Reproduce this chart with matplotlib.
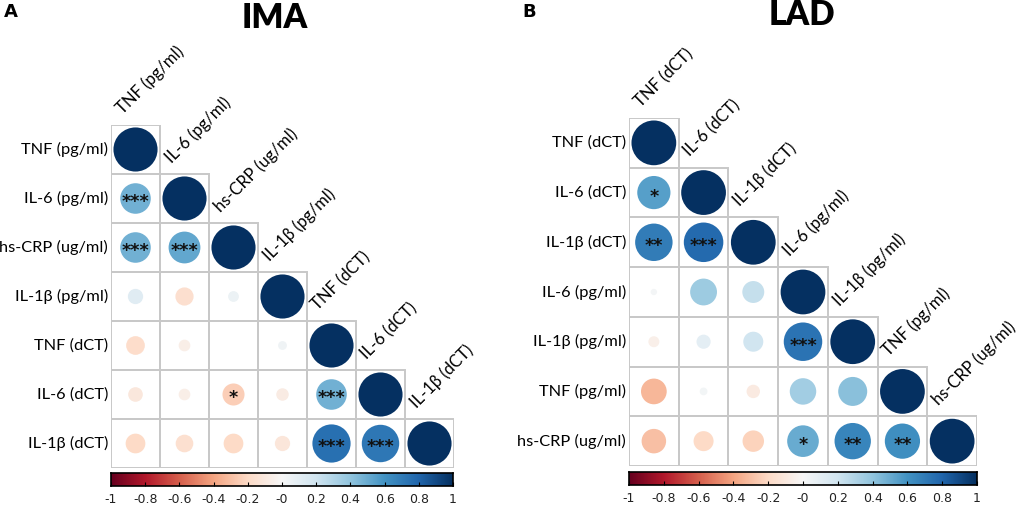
import numpy as np
import matplotlib.pyplot as plt
from matplotlib.patches import Circle, Rectangle

plt.rcParams["font.family"] = ["Lato", "DejaVu Sans"]

# panel A (IMA)
ima_labels = ["TNF (pg/ml)", "IL-6 (pg/ml)", "hs-CRP (ug/ml)", "IL-1β (pg/ml)",
              "TNF (dCT)", "IL-6 (dCT)", "IL-1β (dCT)"]
ima_lower = [
    [0.48],
    [0.48, 0.52],
    [0.12, -0.17, 0.06],
    [-0.18, -0.07, 0.0, 0.04],
    [-0.11, -0.07, -0.25, -0.08, 0.48],
    [-0.20, -0.16, -0.20, -0.12, 0.75, 0.72],
]
ima_stars = [
    ["***"],
    ["***", "***"],
    ["", "", ""],
    ["", "", "", ""],
    ["", "", "*", "", "***"],
    ["", "", "", "", "***", "***"],
]

# panel B (LAD)
lad_labels = ["TNF (dCT)", "IL-6 (dCT)", "IL-1β (dCT)", "IL-6 (pg/ml)",
              "IL-1β (pg/ml)", "TNF (pg/ml)", "hs-CRP (ug/ml)"]
lad_lower = [
    [0.55],
    [0.70, 0.78],
    [0.02, 0.36, 0.24],
    [-0.06, 0.10, 0.20, 0.74],
    [-0.33, 0.03, -0.09, 0.35, 0.42],
    [-0.30, -0.20, -0.23, 0.50, 0.66, 0.62],
]
lad_stars = [
    ["*"],
    ["**", "***"],
    ["", "", ""],
    ["", "", "", "***"],
    ["", "", "", "", ""],
    ["", "", "", "*", "**", "**"],
]

cmap = plt.get_cmap("RdBu")
W, H = 1035, 505
fig = plt.figure(figsize=(W / 100, H / 100), dpi=100)


def px_axes(x0, y0, x1, y1):
    return fig.add_axes([x0 / W, (H - y1) / H, (x1 - x0) / W, (y1 - y0) / H])


def corr_panel(ax, labels, lower, stars):
    n = len(labels)
    mat = np.eye(n)
    sig = [["" for _ in range(n)] for _ in range(n)]
    for i, row in enumerate(lower):
        for j, v in enumerate(row):
            mat[i + 1, j] = v
            sig[i + 1][j] = stars[i][j]
    ax.set_xlim(0, n)
    ax.set_ylim(n, 0)
    ax.axis("off")
    for i in range(n):
        for j in range(i + 1):
            ax.add_patch(Rectangle((j, i), 1, 1, fill=False, ec="#c8c8c8", lw=1.4))
            r = mat[i, j]
            ax.add_patch(Circle((j + 0.5, i + 0.5), 0.45 * np.sqrt(abs(r)),
                                color=cmap((r + 1) / 2), lw=0))
            if sig[i][j]:
                ax.text(j + 0.5, i + 0.58, sig[i][j], ha="center", va="center",
                        fontsize=12.5, fontweight="bold", color="#111111",
                        family="DejaVu Sans")
        ax.text(-0.06, i + 0.5, labels[i], ha="right", va="center", fontsize=11.8,
                clip_on=False)
        ax.text(i + 0.28, i - 0.16, labels[i], ha="left", va="bottom", rotation=45,
                rotation_mode="anchor", fontsize=12, clip_on=False)


def colorbar(cax):
    grad = np.linspace(-1, 1, 256).reshape(1, -1)
    cax.imshow(grad, cmap=cmap, aspect="auto", extent=(-1, 1, 0, 1), vmin=-1, vmax=1)
    cax.set_yticks([])
    ticks = np.round(np.arange(-1, 1.01, 0.2), 1)
    cax.set_xticks(ticks)
    cax.set_xticklabels(["%g" % t for t in ticks], family="DejaVu Sans",
                        fontsize=9, color="#222222")
    cax.tick_params(axis="x", direction="in", length=3, width=0.8, pad=5)
    for s in cax.spines.values():
        s.set_linewidth(1.2)


axA = px_axes(111, 125, 454, 468)
corr_panel(axA, ima_labels, ima_lower, ima_stars)
colorbar(px_axes(111, 473, 453, 486))

axB = px_axes(629, 118, 977, 466)
corr_panel(axB, lad_labels, lad_lower, lad_stars)
colorbar(px_axes(629, 472, 977, 485))

fig.text(4 / W, 1 - 12 / H, "A", fontsize=13, fontweight="bold", va="center",
         family="DejaVu Sans")
fig.text(522 / W, 1 - 12 / H, "B", fontsize=13, fontweight="bold", va="center",
         family="DejaVu Sans")
fig.text(275 / W, 1 - 18 / H, "IMA", fontsize=24, fontweight="heavy", ha="center",
         va="center")
fig.text(802 / W, 1 - 15 / H, "LAD", fontsize=24, fontweight="heavy", ha="center",
         va="center")

fig.savefig("out.png", dpi=100)
